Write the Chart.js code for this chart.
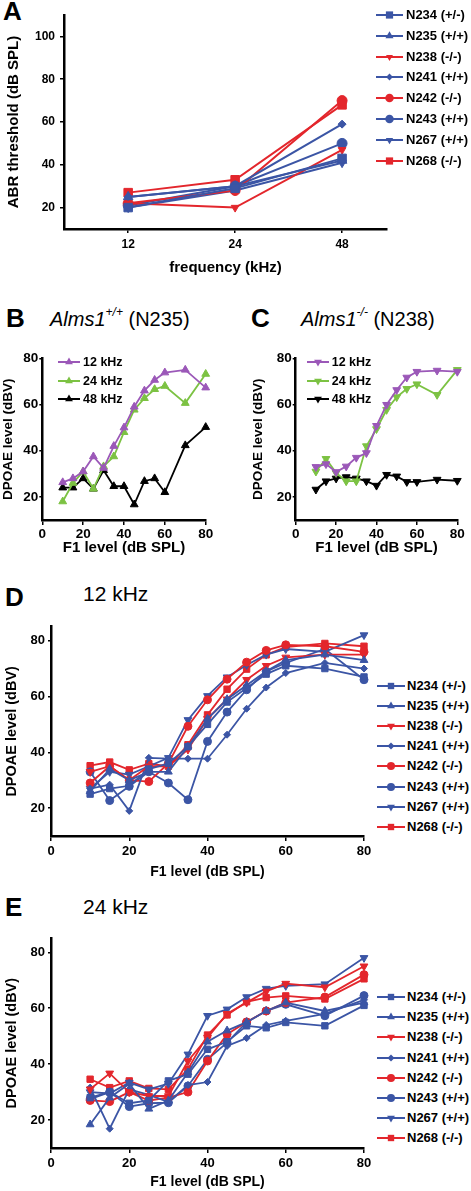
<!DOCTYPE html>
<html>
<head>
<meta charset="utf-8">
<script src="https://cdn.jsdelivr.net/npm/chart.js@4.4.1/dist/chart.umd.min.js"></script>
<style>
  body { margin: 0; background: #fff; }
  #page { position: relative; width: 471px; height: 1191px; background: #fff; overflow: hidden;
          font-family: 'Liberation Sans', Arial, Helvetica, sans-serif; color: #000; }
  #page canvas { position: absolute; }
  .lbl { position: absolute; line-height: 1; white-space: nowrap; }
  .letter { font-weight: bold; font-size: 26px; }
  .ptitle { font-size: 20px; }
  .ptitle sup { font-size: 0.6em; position: relative; top: -0.15em; }
  .leg { position: absolute; white-space: nowrap; font-weight: bold; line-height: 16px; }
</style>
</head>
<body>
<div id="page">
  <div class="lbl letter" style="left:3px;top:-2px;">A</div>
  <div class="lbl letter" style="left:6px;top:305px;">B</div>
  <div class="lbl letter" style="left:251px;top:305px;">C</div>
  <div class="lbl letter" style="left:5px;top:584px;">D</div>
  <div class="lbl letter" style="left:5px;top:894px;">E</div>

  <div class="lbl ptitle" style="left:50px;top:308px;"><i>Alms1<sup>+/+</sup></i> (N235)</div>
  <div class="lbl ptitle" style="left:301px;top:308px;"><i>Alms1<sup>-/-</sup></i> (N238)</div>
  <div class="lbl" style="left:83px;top:583px;font-size:21px;">12 kHz</div>
  <div class="lbl" style="left:83px;top:896px;font-size:21px;">24 kHz</div>

  <canvas id="chartA" width="400" height="290" style="left:0;top:0;"></canvas>
  <canvas id="chartB" width="230" height="220" style="left:0;top:340px;"></canvas>
  <canvas id="chartC" width="231" height="220" style="left:240px;top:340px;"></canvas>
  <canvas id="chartD" width="375" height="268" style="left:0;top:615px;"></canvas>
  <canvas id="chartE" width="375" height="266" style="left:0;top:925px;"></canvas>
</div>

<script>
const FONT = "'Liberation Sans', Arial, Helvetica, sans-serif";
const BLUE = '#3B55A5';
const RED = '#E3262C';
const PURPLE = '#9B58B8';
const GREEN = '#7CC243';
const BLACK = '#000000';

// mice (same order in A, D, E)
const mouseNames = ['N234 (+/-)', 'N235 (+/+)', 'N238 (-/-)', 'N241 (+/+)', 'N242 (-/-)', 'N243 (+/+)', 'N267 (+/+)', 'N268 (-/-)'];
const mouseColors = [BLUE, BLUE, RED, BLUE, RED, BLUE, BLUE, RED];
const mouseMarkers = ['rect', 'triangle', 'triangleDown', 'rectRot', 'circle', 'circle', 'triangleDown', 'rect'];

// A: ABR thresholds (dB SPL) at 12 / 24 / 48 kHz
const abrFreqs = ['12', '24', '48'];
const abrYTicks = [20, 40, 60, 80, 100];
const abrThreshold = [
  [20, 29, 43],   // N234
  [25, 30, 42],   // N235
  [22, 20, 47],   // N238
  [25, 30, 59],   // N241
  [22, 28, 70],   // N242
  [21, 30, 50],   // N243
  [20, 28, 41],   // N267
  [27, 33, 68]    // N268
];

// B-E: DPOAE level vs F1 level
const f1Levels = [10, 15, 20, 25, 30, 35, 40, 45, 50, 55, 60, 70, 80];
const f1Ticks = [0, 20, 40, 60, 80];
const dpYTicks = [20, 40, 60, 80];
const freqNames = ['12 kHz', '24 kHz', '48 kHz'];
const freqColors = [PURPLE, GREEN, BLACK];

const dpN235 = [
  [26.3, 28, 31, 37.5, 32.5, 42, 50, 59, 66, 70.6, 73.8, 75, 67.3],     // 12 kHz
  [18, 26, 31, 23.5, 33.2, 37.5, 48, 57.7, 62.7, 66.6, 68, 60.6, 73.2], // 24 kHz
  [24, 24, 28, 23.5, 31.5, 24.6, 24.6, 16.7, 26.8, 28, 22, 42.3, 50.2]  // 48 kHz
];
const dpN238 = [
  [33, 34.2, 30.8, 33.2, 37, 39, 50.8, 59.9, 66.3, 71.7, 74.2, 74.7, 74.2],
  [31, 36.5, 30.4, 26.8, 26.8, 42, 49.4, 57.7, 63.2, 66.8, 68.8, 64.2, 75],
  [23.2, 26.8, 28, 28.6, 28, 26.8, 24.9, 29.6, 28.9, 26.5, 26.5, 27.5, 27]
];

const dp12kHz = [
  [25, 27, 28, 34, 36, 42, 50, 58, 63, 68, 71, 70, 67],          // N234
  [26, 34, 30, 33, 33, 42, 52, 59, 64, 69, 73, 75, 73],          // N235
  [33, 35, 30, 35, 35, 41, 52, 59, 66, 71, 74, 75, 75],          // N238
  [27, 28.4, 19, 38, 37.7, 37.7, 37.7, 46.3, 55.6, 63.2, 68.4, 72, 70], // N241
  [29, 35, 30, 29.5, 36, 49.3, 58.8, 66.2, 72.3, 76.5, 78.5, 78, 76],   // N242
  [33, 22.7, 27.8, 33, 29, 23, 43.9, 54.4, 62.4, 69, 72, 77, 66],       // N243
  [27, 33, 32, 35, 38, 51.6, 60.2, 66.9, 71.3, 75, 77, 76, 82],         // N267
  [35.2, 36.5, 33.7, 35.9, 35, 42.7, 53.4, 62.6, 69.8, 74.9, 77.7, 79, 78] // N268
];
const dp24kHz = [
  [28, 30, 26, 27, 34, 36.4, 45.3, 48, 53.7, 53, 54.9, 53.7, 61],   // N234
  [18.4, 28, 33, 24, 27, 37, 48, 52, 55, 59, 62, 59, 62],           // N235
  [31, 36.7, 30, 28.6, 28.6, 41.1, 49.5, 58, 62, 66, 68.8, 67.5, 75], // N238
  [31.6, 16.9, 31, 29, 26.5, 32.5, 33.6, 46.5, 49.3, 54, 55.5, 58, 63], // N241
  [27, 26.6, 30, 27, 28, 30, 41.1, 50.7, 55.1, 59, 62, 64, 72],      // N242
  [27.5, 30, 24.8, 26, 26.2, 32.2, 41.7, 47.7, 55, 59, 61.4, 57.3, 64.5], // N243
  [30, 29.5, 33.4, 31, 33, 43.5, 57.3, 59.6, 64, 67, 68, 68.6, 78],  // N267
  [34.6, 31.6, 34, 31.3, 31, 38.2, 50.4, 57.6, 62.3, 63.8, 64.4, 63.3, 70.5] // N268
];

function pointOpts(marker, r) {
  if (marker === 'triangleDown') return { pointStyle: 'triangle', pointRotation: 180, pointRadius: r };
  return { pointStyle: marker, pointRotation: 0, pointRadius: r };
}

function series(xs, ys, label, color, marker, r, lw) {
  return {
    label: label,
    data: ys.map((y, i) => ({ x: xs[i], y: y })),
    borderColor: color,
    backgroundColor: color,
    pointBackgroundColor: color,
    pointBorderColor: color,
    pointBorderWidth: 1,
    borderWidth: lw,
    tension: 0,
    fill: false,
    clip: false,
    ...pointOpts(marker, r)
  };
}

function axis(o) {
  return {
    type: 'linear',
    min: o.min,
    max: o.max,
    border: { display: true, color: '#000', width: 2.5 },
    grid: { display: true, drawOnChartArea: false, drawTicks: true, tickLength: o.tickLength, color: '#000', lineWidth: 1.5 },
    ticks: {
      color: '#000',
      font: { family: FONT, size: o.tickSize, weight: 'bold' },
      padding: o.tickPad,
      autoSkip: false,
      maxRotation: 0,
      callback: o.callback || (v => v)
    },
    afterBuildTicks: s => { s.ticks = o.ticks.map(v => ({ value: v })); },
    afterFit: s => {
      if (o.width != null) s.width = o.width;
      if (o.height != null) s.height = o.height;
    },
    title: {
      display: true,
      text: o.title,
      color: '#000',
      font: { family: FONT, size: o.titleSize, weight: 'bold' },
      padding: { top: o.titlePad || 0, bottom: o.titlePad || 0 }
    }
  };
}

function makeChart(id, datasets, padding, xAxis, yAxis) {
  return new Chart(document.getElementById(id), {
    type: 'line',
    data: { datasets: datasets },
    options: {
      responsive: false,
      animation: false,
      devicePixelRatio: 1,
      layout: { padding: padding },
      plugins: { legend: { display: false }, tooltip: { enabled: false } },
      scales: { x: xAxis, y: yAxis }
    }
  });
}

// marker sizes
const bigR = { rect: 6, triangle: 5.5, triangleDown: 5, rectRot: 4, circle: 5 };
const smallR = { rect: 4.5, triangle: 4.5, triangleDown: 4.5, rectRot: 3.5, circle: 4 };

// ---- A ----
const abrX = abrFreqs.map((f, i) => i);
makeChart('chartA',
  abrThreshold.map((row, i) => series(abrX, row, mouseNames[i], mouseColors[i], mouseMarkers[i],
    i === 2 ? 4.5 : bigR[mouseMarkers[i]], 2)),
  { left: 0, top: 15, right: 13, bottom: 0 },
  axis({ min: -0.6, max: 2.42, ticks: abrX, tickLength: 4, tickPad: 4, tickSize: 12, height: 61,
         title: 'frequency (kHz)', titleSize: 15, titlePad: 13, callback: v => abrFreqs[v] }),
  axis({ min: 10, max: 110, ticks: abrYTicks, tickLength: 4, tickPad: 5, tickSize: 12, width: 64,
         title: 'ABR threshold (dB SPL)', titleSize: 15, titlePad: 5 })
);

// ---- B, C ----
function smallPanel(id, rows, marker, yWidth, rightPad, yTitlePad) {
  makeChart(id,
    rows.map((row, i) => series(f1Levels, row, freqNames[i], freqColors[i], marker, 4.5, 1.8)),
    { left: 0, top: 18.3, right: rightPad, bottom: 0 },
    axis({ min: 0, max: 80, ticks: f1Ticks, tickLength: 5, tickPad: 1, tickSize: 13.5, height: 40,
           title: 'F1 level (dB SPL)', titleSize: 15, titlePad: 3 }),
    axis({ min: 10, max: 80, ticks: dpYTicks, tickLength: 3, tickPad: 1, tickSize: 13.5, width: yWidth,
           title: 'DPOAE level (dBV)', titleSize: 13.5, titlePad: yTitlePad })
  );
}
smallPanel('chartB', dpN235, 'triangle', 42.3, 24.3, 0);
smallPanel('chartC', dpN238, 'triangleDown', 55.7, 13.7, 10);

// ---- D, E ----
function bigPanel(id, rows, topPad, xHeight, xTitlePad) {
  makeChart(id,
    rows.map((row, i) => series(f1Levels, row, mouseNames[i], mouseColors[i], mouseMarkers[i],
      smallR[mouseMarkers[i]], 1.8)),
    { left: 0, top: topPad, right: 11, bottom: 0 },
    axis({ min: 0, max: 80, ticks: f1Ticks, tickLength: 5, tickPad: 3, tickSize: 13, height: xHeight,
           title: 'F1 level (dB SPL)', titleSize: 14, titlePad: xTitlePad }),
    axis({ min: 10, max: 85, ticks: dpYTicks, tickLength: 3, tickPad: 3, tickSize: 13, width: 51,
           title: 'DPOAE level (dBV)', titleSize: 14.5, titlePad: 3.3 })
  );
}
bigPanel('chartD', dp12kHz, 11.7, 47, 2.6);
bigPanel('chartE', dp24kHz, 13.3, 43, 0);

// ---- legends (line + marker icon, then text) ----
function markerSvg(shape, color, r, cx, cy) {
  if (shape === 'rect') {
    const s = r * Math.SQRT2;
    return `<rect x="${cx - s / 2}" y="${cy - s / 2}" width="${s}" height="${s}" fill="${color}"/>`;
  }
  if (shape === 'circle') return `<circle cx="${cx}" cy="${cy}" r="${r}" fill="${color}"/>`;
  if (shape === 'rectRot') {
    return `<polygon points="${cx},${cy - r} ${cx + r},${cy} ${cx},${cy + r} ${cx - r},${cy}" fill="${color}"/>`;
  }
  const dir = shape === 'triangleDown' ? -1 : 1;
  const h = r * Math.sin(Math.PI / 3);
  const pts = [[cx, cy - dir * r], [cx + h, cy + dir * r / 2], [cx - h, cy + dir * r / 2]];
  return `<polygon points="${pts.map(p => p.join(',')).join(' ')}" fill="${color}"/>`;
}

function addLegend(x, y0, dy, lineLen, textX, names, colors, markers, radius, fontSize) {
  const page = document.getElementById('page');
  names.forEach((name, i) => {
    const y = y0 + i * dy;
    const icon = document.createElement('div');
    icon.className = 'leg';
    icon.style.left = x + 'px';
    icon.style.top = (y - 8) + 'px';
    icon.innerHTML = `<svg width="${lineLen}" height="16" style="display:block">` +
      `<line x1="0" y1="8" x2="${lineLen}" y2="8" stroke="${colors[i]}" stroke-width="2"/>` +
      markerSvg(markers[i], colors[i], radius(markers[i], i), lineLen / 2, 8) + `</svg>`;
    page.appendChild(icon);
    const txt = document.createElement('div');
    txt.className = 'leg';
    txt.style.left = textX + 'px';
    txt.style.top = (y - 8) + 'px';
    txt.style.fontSize = fontSize + 'px';
    txt.textContent = name;
    page.appendChild(txt);
  });
}

addLegend(376, 15, 20.8, 27, 406, mouseNames, mouseColors, mouseMarkers,
  (m, i) => i === 2 ? 4 : bigR[m] * 0.85, 13);
addLegend(377, 685.5, 20.2, 28, 407, mouseNames, mouseColors, mouseMarkers, m => smallR[m], 13);
addLegend(377, 997, 20.2, 28, 407, mouseNames, mouseColors, mouseMarkers, m => smallR[m], 13);
addLegend(58, 361.7, 18.8, 22, 83, freqNames, freqColors, ['triangle', 'triangle', 'triangle'], () => 4.5, 12.5);
addLegend(306.7, 361.7, 18.8, 22, 331.7, freqNames, freqColors, ['triangleDown', 'triangleDown', 'triangleDown'], () => 4.5, 12.5);
</script>
</body>
</html>
